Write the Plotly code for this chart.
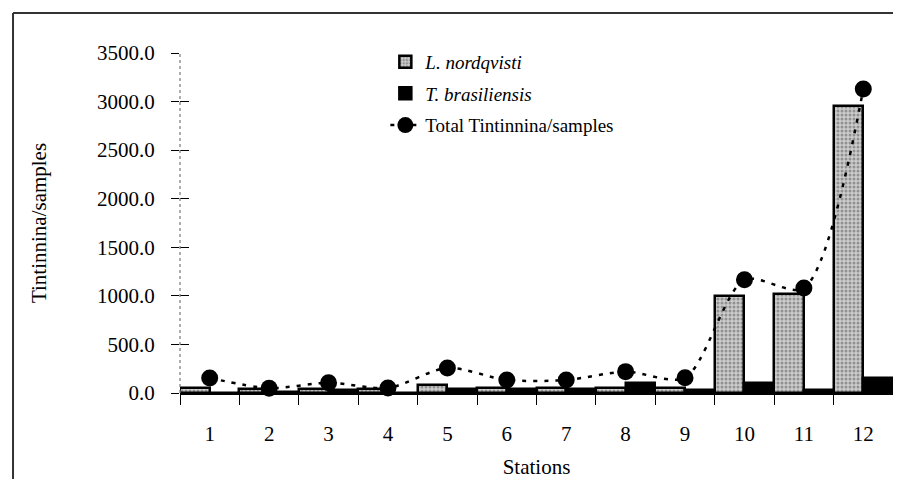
import plotly.graph_objects as go

stations = ["1", "2", "3", "4", "5", "6", "7", "8", "9", "10", "11", "12"]
l_nordqvisti = [50, 45, 45, 45, 80, 50, 50, 50, 50, 1000, 1020, 2950]
t_brasiliensis = [5, 10, 35, 5, 45, 45, 45, 100, 35, 100, 35, 150]
total_tintinnina = [155, 50, 106, 52, 258, 134, 134, 220, 158, 1165, 1080, 3130]
y_ticks = [0, 500, 1000, 1500, 2000, 2500, 3000, 3500]

FONT = "Liberation Serif"

fig = go.Figure()
fig.add_trace(go.Bar(
    x=stations, y=l_nordqvisti, name="<i>L. nordqvisti</i>",
    legendgroup="a",
    marker=dict(color="#c4c4c4",
                line=dict(color="black", width=2.5),
                pattern=dict(shape=".", fgcolor="#555555", bgcolor="#cccccc",
                             size=4, solidity=0.45)),
))
fig.add_trace(go.Bar(
    x=stations, y=t_brasiliensis, name="<i>T. brasiliensis</i>",
    legendgroup="b",
    marker=dict(color="black", line=dict(color="black", width=2.5)),
))
fig.add_trace(go.Scatter(
    x=stations, y=total_tintinnina, name="Total Tintinnina/samples",
    legendgroup="c",
    mode="lines+markers",
    line=dict(color="black", width=2.5, dash="4px,7px", shape="spline", smoothing=0.8),
    marker=dict(color="black", size=17, symbol="circle"),
    cliponaxis=False,
))

fig.update_layout(
    width=885, height=471,
    margin=dict(l=172, r=0, t=45, b=86, autoexpand=False),
    paper_bgcolor="white", plot_bgcolor="white",
    barmode="group", bargap=0, bargroupgap=0,
    font=dict(family=FONT, size=21, color="black"),
    showlegend=True,
    legend=dict(x=0.288, y=1.03, xanchor="left", yanchor="top",
                bgcolor="rgba(0,0,0,0)", font=dict(family=FONT, size=19),
                tracegroupgap=4, itemwidth=30),
    xaxis=dict(
        type="category", range=[-0.5, 11.5], tickson="boundaries",
        ticks="outside", ticklen=10,
        tickcolor="black", tickwidth=1.2,
        showline=True, linecolor="black", linewidth=1.5,
        showgrid=False, zeroline=False, automargin=False,
        ticklabelstandoff=21,
        title=dict(text="Stations", standoff=14, font=dict(family=FONT, size=21)),
    ),
    yaxis=dict(
        range=[0, 3500], tickvals=y_ticks, tickformat=".1f",
        ticks="outside", ticklen=8, tickcolor="black", tickwidth=1.2,
        showline=False, showgrid=False, zeroline=False, automargin=False,
        ticklabelstandoff=12,
        title=dict(text="Tintinnina/samples", standoff=44, font=dict(family=FONT, size=21)),
    ),
    yaxis2=dict(
        overlaying="y", side="left", range=[0, 3500], tickvals=y_ticks,
        ticks="inside", ticklen=9, tickcolor="black", tickwidth=1.2,
        showticklabels=False, showline=False, showgrid=False, zeroline=False,
    ),
    shapes=[
        dict(type="line", xref="paper", yref="y", x0=0, x1=0, y0=0, y1=3500,
             line=dict(color="#777777", width=1.2, dash="dot")),
        dict(type="line", xref="paper", yref="paper",
             x0=-0.2342, x1=1.1, y0=1.1176, y1=1.1176,
             line=dict(color="#333333", width=2)),
        dict(type="line", xref="paper", yref="paper",
             x0=-0.2342, x1=-0.2342, y0=-0.35, y1=1.1176,
             line=dict(color="#333333", width=2)),
    ],
)

# invisible trace to activate the overlay axis
fig.add_trace(go.Scatter(x=[stations[0]], y=[0], yaxis="y2", mode="markers",
                         marker=dict(opacity=0), showlegend=False, hoverinfo="skip"))

fig.write_html("out.html")
